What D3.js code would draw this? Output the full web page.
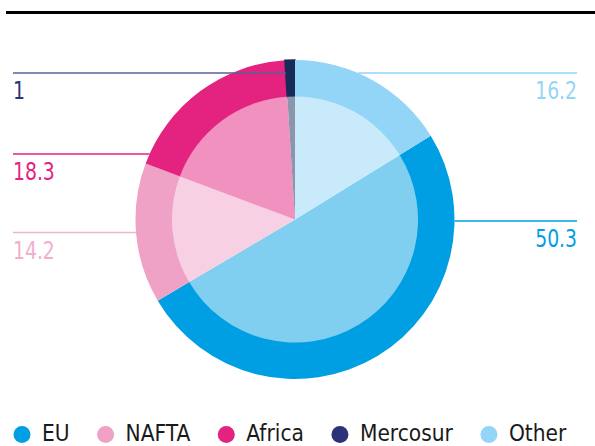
<!DOCTYPE html>
<html>
<head>
<meta charset="utf-8">
<script src="https://cdn.jsdelivr.net/npm/d3@7"></script>
<style>
  body { margin: 0; background: #fff; }
  svg text { font-family: "DejaVu Sans Condensed", "DejaVu Sans", sans-serif; font-stretch: condensed; }
</style>
</head>
<body>
<div id="chart"></div>
<script>
// shares, in %
const categories = ["EU", "NAFTA", "Africa", "Mercosur", "Other"];
const values = [50.3, 14.2, 18.3, 1, 16.2];
const valueLabels = ["50.3", "14.2", "18.3", "1", "16.2"];
const colors = ["#009fe3", "#f0a1c6", "#e3237f", "#172a58", "#93d5f6"];
const legendColors = ["#009fe3", "#f0a1c6", "#e3237f", "#2b3277", "#93d5f6"];
// clockwise from 12 o'clock
const pieOrder = ["Other", "EU", "NAFTA", "Africa", "Mercosur"];

const width = 595, height = 446;
const cx = 295, cy = 219.5, rOuter = 159.5, rInner = 123;

// where each label sits (side, y of the leader line)
const labelLayout = {
  EU: ["right", 221],
  NAFTA: ["left", 232.5],
  Africa: ["left", 154],
  Mercosur: ["left", 73],
  Other: ["right", 73]
};

const data = categories.map((c, i) => ({
  name: c, value: values[i], label: valueLabels[i],
  color: colors[i], legendColor: legendColors[i]
}));

const color = d3.scaleOrdinal().domain(categories).range(colors);

const svg = d3.select("#chart")
  .append("svg")
  .attr("width", width)
  .attr("height", height)
  .attr("viewBox", [0, 0, width, height]);

// top rule
svg.append("line")
  .attr("x1", 6).attr("x2", width)
  .attr("y1", 12.5).attr("y2", 12.5)
  .attr("stroke", "#000")
  .attr("stroke-width", 3);

const pie = d3.pie()
  .value(d => d.value)
  .sort((a, b) => pieOrder.indexOf(a.name) - pieOrder.indexOf(b.name));

const arcs = pie(data);

const g = svg.append("g").attr("transform", `translate(${cx},${cy})`);

// outer ring
g.selectAll("path.outer")
  .data(arcs)
  .join("path")
  .attr("class", "outer")
  .attr("d", d3.arc().innerRadius(rInner - 1).outerRadius(rOuter))
  .attr("fill", d => color(d.data.name))
  .attr("stroke", d => d.data.name == "Mercosur" ? color(d.data.name) : "none")
  .attr("stroke-width", 1.5);

// inner pie, lighter
g.selectAll("path.inner")
  .data(arcs)
  .join("path")
  .attr("class", "inner")
  .attr("d", d3.arc().innerRadius(0).outerRadius(rInner))
  .attr("fill", d => d3.interpolateRgb(color(d.data.name), "#fff")(0.5));

// leader line end: walk in from the circle edge until we hit the slice
function lineEnd(d, side, y) {
  const dy = y - cy;
  let dx = Math.sqrt(rOuter * rOuter - dy * dy);
  const sign = side == "left" ? -1 : 1;
  for (let k = 0; k < 400; k++) {
    const x = sign * dx;
    let a = Math.atan2(x, -dy);
    if (a < 0) a += 2 * Math.PI;
    if (a >= d.startAngle && a <= d.endAngle) break;
    dx -= 0.5;
  }
  return cx + sign * dx;
}

const labels = svg.append("g")
  .selectAll("g")
  .data(arcs)
  .join("g");

labels.append("line")
  .attr("x1", d => labelLayout[d.data.name][0] == "left" ? 13 : 577)
  .attr("x2", d => lineEnd(d, labelLayout[d.data.name][0], labelLayout[d.data.name][1]))
  .attr("y1", d => labelLayout[d.data.name][1])
  .attr("y2", d => labelLayout[d.data.name][1])
  .attr("stroke", d => d.data.name == "Mercosur" ? "#5b6096" : (d.data.name == "NAFTA" ? "#f2b3d0" : d.data.legendColor))
  .attr("stroke-width", 1.6);

// value labels, squeezed a little to look like a condensed face
labels.append("text")
  .attr("transform", d => {
    const x = labelLayout[d.data.name][0] == "left" ? 13 : 577;
    return `translate(${x},${labelLayout[d.data.name][1] + 26}) scale(0.87,1)`;
  })
  .attr("text-anchor", d => labelLayout[d.data.name][0] == "left" ? "start" : "end")
  .attr("fill", d => d.data.name == "NAFTA" ? "#f2aecd" : d.data.legendColor)
  .style("font-size", "24px")
  .text(d => d.data.label);

// legend
const legend = svg.append("g").attr("class", "legend");
let lx = 22;
data.forEach(d => {
  const item = legend.append("g");
  item.append("circle")
    .attr("cx", lx).attr("cy", 434.5)
    .attr("r", 8.5)
    .attr("fill", d.legendColor);
  const t = item.append("text")
    .attr("x", lx + 20).attr("y", 441)
    .attr("fill", "#1a1a1a")
    .style("font-size", "22.5px")
    .text(d.name);
  lx += 20 + t.node().getComputedTextLength() + 36;
});
</script>
</body>
</html>
